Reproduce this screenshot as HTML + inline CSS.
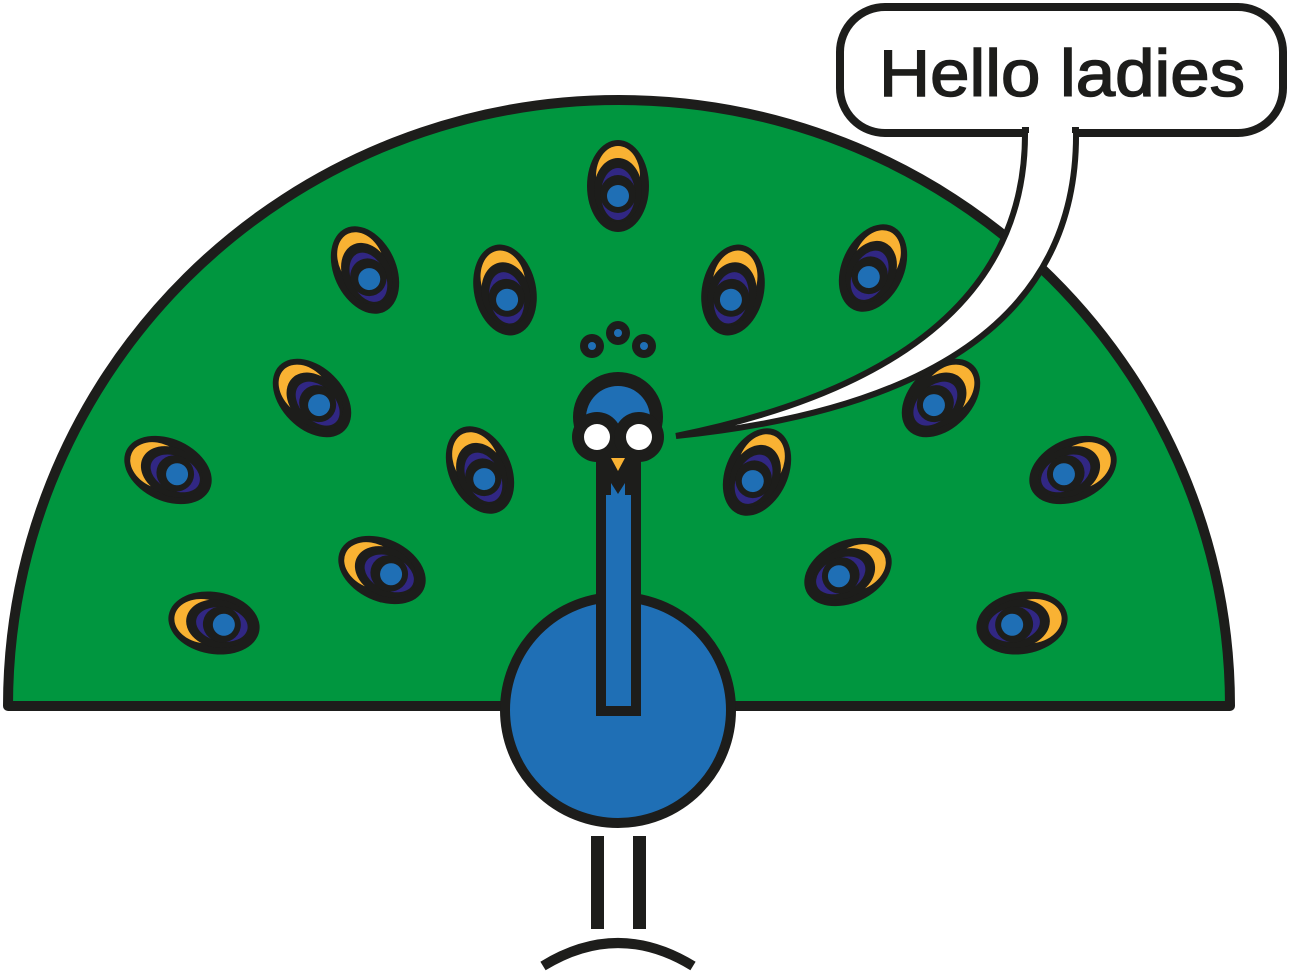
<!DOCTYPE html>
<html><head><meta charset="utf-8"><style>
html,body{margin:0;padding:0;background:#fff;}
svg{display:block;}
</style></head><body>
<svg width="1289" height="973" viewBox="0 0 1289 973" xmlns="http://www.w3.org/2000/svg">
<defs>
<g id="f">
<ellipse cx="0" cy="0" rx="31" ry="46" fill="#1d1d1b"/>
<ellipse cx="0" cy="-10" rx="22" ry="30" fill="#f9b233"/>
<ellipse cx="0" cy="4" rx="24" ry="32" fill="#1d1d1b"/>
<ellipse cx="0" cy="8" rx="17" ry="26" fill="#312783"/>
<ellipse cx="0" cy="8" rx="18" ry="19" fill="#1d1d1b"/>
<circle cx="0" cy="10" r="11" fill="#1f6fb5"/>
</g>
</defs>
<path d="M8,706 A611,606 0 0 1 1230,706 Z" fill="#00963f" stroke="#1d1d1b" stroke-width="10" stroke-linejoin="round"/>
<use href="#f" transform="translate(618,186)"/>
<use href="#f" transform="translate(365,270) rotate(-25)"/>
<use href="#f" transform="translate(505,290) rotate(-12)"/>
<use href="#f" transform="translate(733,290) rotate(12)"/>
<use href="#f" transform="translate(873,268) rotate(25)"/>
<use href="#f" transform="translate(312,398) rotate(-45)"/>
<use href="#f" transform="translate(168,470) rotate(-65)"/>
<use href="#f" transform="translate(480,470) rotate(-25)"/>
<use href="#f" transform="translate(757,472) rotate(25)"/>
<use href="#f" transform="translate(941,398) rotate(45)"/>
<use href="#f" transform="translate(1073,470) rotate(65)"/>
<use href="#f" transform="translate(382,570) rotate(-65)"/>
<use href="#f" transform="translate(214,623) rotate(-80)"/>
<use href="#f" transform="translate(848,572) rotate(65)"/>
<use href="#f" transform="translate(1022,623) rotate(80)"/>
<circle cx="618" cy="710" r="113" fill="#1f6fb5" stroke="#1d1d1b" stroke-width="10"/>
<rect x="601" y="455" width="35" height="256" fill="#1f6fb5" stroke="#1d1d1b" stroke-width="10"/>
<!-- head -->
<circle cx="618" cy="417" r="45" fill="#1d1d1b"/>
<circle cx="618" cy="418" r="32" fill="#1f6fb5"/>
<circle cx="597" cy="437" r="25" fill="#1d1d1b"/>
<circle cx="639" cy="437" r="25" fill="#1d1d1b"/>
<rect x="599" y="450" width="39" height="45" fill="#1d1d1b"/>
<path d="M611,483 L618,494 L625,483 L625,500 L611,500 Z" fill="#1f6fb5"/>
<circle cx="597" cy="437" r="13" fill="#fff"/>
<circle cx="639" cy="437" r="13" fill="#fff"/>
<path d="M611,458 L625,458 L618,471 Z" fill="#f9b233"/>
<circle cx="592" cy="346" r="12" fill="#1d1d1b"/>
<circle cx="618" cy="333" r="12" fill="#1d1d1b"/>
<circle cx="644" cy="346" r="12" fill="#1d1d1b"/>
<circle cx="592" cy="346" r="4" fill="#1f6fb5"/>
<circle cx="618" cy="333" r="4" fill="#1f6fb5"/>
<circle cx="644" cy="346" r="4" fill="#1f6fb5"/>
<rect x="591" y="836" width="13" height="93" fill="#1d1d1b"/>
<rect x="633" y="836" width="13" height="93" fill="#1d1d1b"/>
<path d="M543,966 Q618,920 693,966" fill="none" stroke="#1d1d1b" stroke-width="10"/>
<rect x="840" y="7" width="443" height="126" rx="45" fill="#fff" stroke="#1d1d1b" stroke-width="8"/>
<path d="M1076,130 Q1080,395 676,436 Q1028,365 1025,130 Z" fill="#fff" stroke="#1d1d1b" stroke-width="6" stroke-linejoin="miter"/>
<rect x="1029" y="120" width="43" height="16" fill="#fff"/>
<text x="879" y="96" font-family="Liberation Sans, sans-serif" font-size="66" fill="#1d1d1b" stroke="#1d1d1b" stroke-width="1.5" textLength="366" lengthAdjust="spacingAndGlyphs">Hello ladies</text>
</svg>
</body></html>
